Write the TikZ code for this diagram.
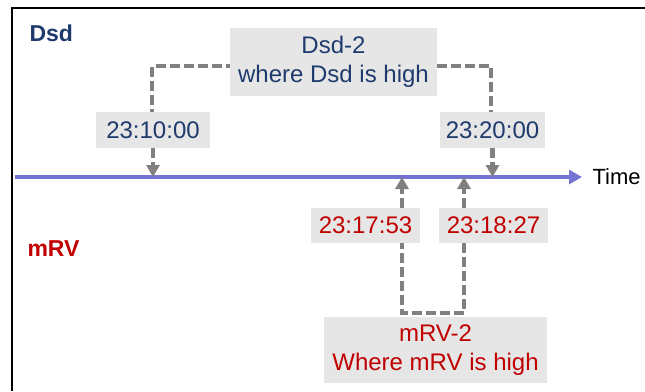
\documentclass[tikz,border=0pt]{standalone}
\usepackage{fontspec}
\setmainfont{Liberation Sans}
\usetikzlibrary{arrows.meta}
\definecolor{navy}{HTML}{1F3B6E}
\definecolor{dred}{HTML}{C00000}
\definecolor{boxgray}{HTML}{E6E6E6}
\definecolor{dashgray}{HTML}{808080}
\definecolor{axisblue}{HTML}{7474D2}
\begin{document}
\begin{tikzpicture}[x=1pt,y=-1pt,
  lbl/.style={fill=boxgray, inner sep=0pt, align=center, font=\fontsize{24}{29}\selectfont},
  conn/.style={draw=dashgray, line width=4.5pt, dash pattern=on 10pt off 4pt},
  tipd/.style={-{Triangle[width=13pt,length=12pt]}},
  ttl/.style={font=\bfseries\fontsize{23}{26}\selectfont, anchor=west}]
\useasboundingbox (0,0) rectangle (645,391);
\draw[line width=2.5pt] (645,8) -- (12,8) -- (12,391);

\node[ttl, text=navy] (dsd) at (26,33) {Dsd};
\node[ttl, text=dred] (mrv) at (24,249) {mRV};

\coordinate (axisL) at (15,177);
\coordinate (axisR) at (582,177);
\draw[axisblue, line width=4.5pt, -{Triangle[width=14pt,length=13pt]}] (axisL) -- (axisR);
\node[anchor=west, font=\fontsize{22}{26}\selectfont] (time) at (589,177) {Time};

\coordinate (u1) at (402,177);
\coordinate (u2) at (464,177);
\coordinate (b1) at (402,313);
\coordinate (b2) at (464,313);

% Dsd side
\draw[conn] (333.5,66) -- (152,66) -- (152,130);
\draw[conn] (437,66) -- (491,66) -- (491,130);
\node[lbl, text=navy, minimum width=207pt, minimum height=68pt] (dsd2) at (333.5,62) {Dsd-2\\where Dsd is high};
\node[lbl, text=navy, minimum width=114pt, minimum height=36pt] (t1) at (153,130) {23:10:00};
\node[lbl, text=navy, minimum width=105pt, minimum height=36pt] (t2) at (492.5,130) {23:20:00};
\draw[conn, tipd] (t1.south) -- (t1.south |- axisL);
\draw[conn, tipd] (t2.south) -- (t2.south |- axisL);

% mRV side
\draw[conn] (u1 |- 0,225) -- (b1) -- (b2) -- (u2 |- 0,225);
\node[lbl, text=dred, minimum width=109pt, minimum height=35pt] (t3) at (365.5,225.5) {23:17:53};
\node[lbl, text=dred, minimum width=109pt, minimum height=35pt] (t4) at (493.5,225.5) {23:18:27};
\node[lbl, text=dred, minimum width=223pt, minimum height=66pt] (mrv2) at (435.5,350) {mRV-2\\Where mRV is high};
\draw[conn, tipd] (t3.north -| u1) -- (u1);
\draw[conn, tipd] (t4.north -| u2) -- (u2);
\end{tikzpicture}
\end{document}
